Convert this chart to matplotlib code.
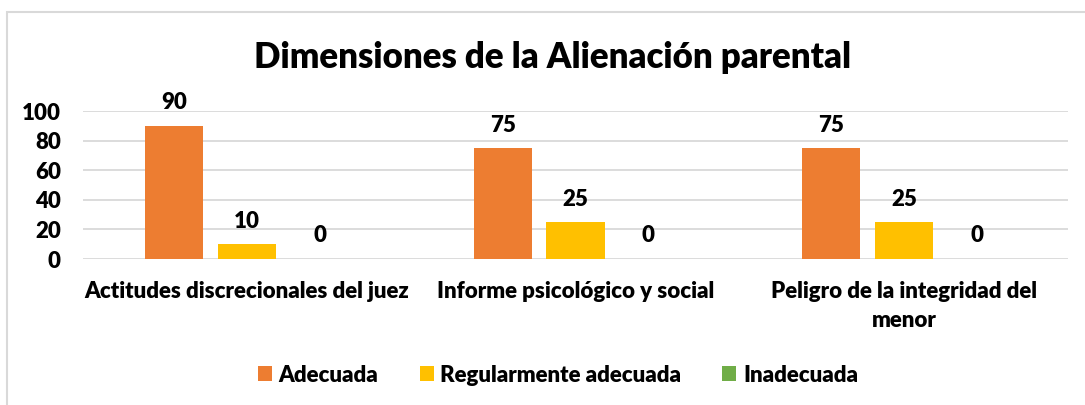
import matplotlib
matplotlib.use("Agg")
import matplotlib.pyplot as plt
import numpy as np
from matplotlib.patches import Rectangle

categories = ["Actitudes discrecionales del juez", "Informe psicológico y social",
              "Peligro de la integridad del\nmenor"]
series_names = ["Adecuada", "Regularmente adecuada", "Inadecuada"]
adecuada = [90, 75, 75]
regular = [10, 25, 25]
inadecuada = [0, 0, 0]
colors = ["#ED7D31", "#FFC000", "#70AD47"]
yticks = [0, 20, 40, 60, 80, 100]
title = "Dimensiones de la Alienación parental"

WT = "heavy"
plt.rcParams['font.family'] = ['Lato', 'DejaVu Sans']
plt.rcParams['font.weight'] = WT

W, H = 1085, 405
FS = 16
fig = plt.figure(figsize=(W / 100, H / 100), dpi=100)
fig.patches.append(Rectangle((7 / W, -0.1), 1.2, 1 - 12 / H + 0.1, transform=fig.transFigure,
                             fill=False, edgecolor="#D9D9D9", linewidth=1.5))

ax = fig.add_axes([83 / W, 1 - 259 / H, (1068 - 83) / W, (259 - 111) / H])
x = np.arange(len(categories))
step = 0.222
width = 0.177
data = [adecuada, regular, inadecuada]
for i, (vals, name, c) in enumerate(zip(data, series_names, colors)):
    ax.bar(x + (i - 1) * step, vals, width, color=c, label=name, zorder=3)
    for xi, v in zip(x + (i - 1) * step, vals):
        ax.annotate(f"{v}", (xi, v), xytext=(0, 9), textcoords="offset points",
                    ha="center", va="bottom", fontsize=FS, fontweight=WT)

ax.set_xlim(-0.5, len(categories) - 0.5)
ax.set_ylim(0, 100)
ax.set_yticks(yticks)
ax.set_yticklabels([str(t) for t in yticks], fontsize=FS, fontweight=WT)
ax.set_xticks(x)
ax.set_xticklabels(categories, fontsize=FS, fontweight=WT, va="top", linespacing=1.45)
ax.tick_params(axis="both", length=0)
ax.tick_params(axis="x", pad=16)
ax.tick_params(axis="y", pad=16)
for s in ax.spines.values():
    s.set_visible(False)
ax.yaxis.grid(True, color="#D9D9D9", linewidth=1.3, zorder=0)
ax.set_axisbelow(True)

fig.text(553 / W, 1 - 57 / H, title, ha="center", va="center", fontsize=25, fontweight=WT)

handles, labels = ax.get_legend_handles_labels()
fig.legend(handles, labels, loc="center", bbox_to_anchor=(558 / W, 1 - 375 / H), ncol=3,
           frameon=False, handlelength=0.63, handleheight=0.63,
           handletextpad=0.3, columnspacing=1.85, prop={"weight": WT, "size": FS})

fig.savefig("out.png", dpi=100)
